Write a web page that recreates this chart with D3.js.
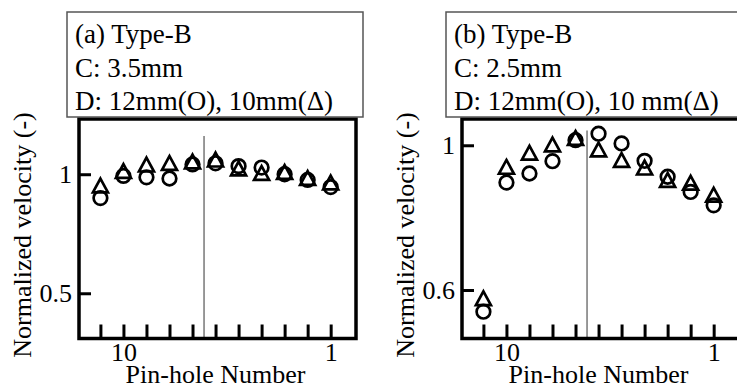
<!DOCTYPE html>
<html>
<head>
<meta charset="utf-8">
<script src="https://cdn.jsdelivr.net/npm/d3@7"></script>
<style>
  body { margin: 0; background: #fff; }
  svg { display: block; }
  text { font-family: "Liberation Serif", "Times New Roman", serif; fill: #000; }
</style>
</head>
<body>
<svg id="chart" width="737" height="388"></svg>
<script>
// pin-hole numbers (x), plotted right-to-left
const pinHoles = [11, 10, 9, 8, 7, 6, 5, 4, 3, 2, 1];
const xTickLabels = [10, 1];

// (a) C: 3.5mm
const a12mm = [0.900, 0.993, 0.987, 0.982, 1.041, 1.046, 1.034, 1.028, 1.000, 0.976, 0.946]; // circles
const a10mm = [0.955, 1.016, 1.043, 1.050, 1.056, 1.064, 1.027, 1.008, 1.012, 0.987, 0.968]; // triangles
const aYTicks = [0.5, 1];
const aLegend = ["(a) Type-B", "C: 3.5mm", "D: 12mm(O), 10mm(\u0394)"];

// (b) C: 2.5mm
const b12mm = [0.540, 0.897, 0.922, 0.956, 1.014, 1.032, 1.005, 0.957, 0.913, 0.871, 0.834];
const b10mm = [0.579, 0.942, 0.981, 1.004, 1.022, 0.990, 0.961, 0.940, 0.906, 0.898, 0.865];
const bYTicks = [0.6, 1];
const bLegend = ["(b) Type-B", "C: 2.5mm", "D: 12mm(O), 10 mm(\u0394)"];

const svg = d3.select("#chart");
const fontSize = 26;

function drawPanel(p) {
  const w = 277, h = 219.5;
  const g = svg.append("g").attr("transform", `translate(${p.left},${p.top})`);

  const x = d3.scaleLinear().domain([11.93, -0.1]).range([0, w]);
  const y = d3.scaleLinear().domain(p.yDomain).range([h, 0]);

  // legend box
  const box = svg.append("g").attr("transform", `translate(${p.boxLeft},12)`);
  box.append("rect")
    .attr("width", 296).attr("height", 105)
    .attr("fill", "#fff").attr("stroke", "#555").attr("stroke-width", 1.5);
  box.selectAll("text").data(p.legend).enter().append("text")
    .attr("x", 8)
    .attr("y", (d, i) => 31 + i * 33.5)
    .attr("font-size", 27)
    .text(d => d);

  // divider line
  g.append("line")
    .attr("x1", x(6.5)).attr("x2", x(6.5))
    .attr("y1", y(p.lineTop)).attr("y2", h)
    .attr("stroke", "#555").attr("stroke-width", 1.2);

  // x axis, ticks pointing inward
  const xAxis = g.append("g")
    .attr("transform", `translate(0,${h})`)
    .call(d3.axisBottom(x)
      .tickValues(pinHoles)
      .tickSize(-14)
      .tickPadding(4)
      .tickFormat(d => xTickLabels.includes(d) ? d : ""));
  xAxis.select(".domain").remove();
  xAxis.selectAll("line").attr("stroke", "#000").attr("stroke-width", 3);
  xAxis.selectAll("text").attr("font-size", fontSize).attr("font-family", null);

  // y axis
  const yAxis = g.append("g")
    .call(d3.axisLeft(y)
      .tickValues(p.yTicks)
      .tickSize(-12)
      .tickPadding(7)
      .tickFormat(d => d));
  yAxis.select(".domain").remove();
  yAxis.selectAll("line").attr("stroke", "#000").attr("stroke-width", 3);
  yAxis.selectAll("text").attr("font-size", fontSize).attr("font-family", null);

  // frame
  g.append("rect")
    .attr("width", w).attr("height", h)
    .attr("fill", "none").attr("stroke", "#000").attr("stroke-width", 3.5);

  // circles: 12mm
  g.selectAll(".circ").data(pinHoles).enter().append("circle")
    .attr("class", "circ")
    .attr("cx", d => x(d))
    .attr("cy", (d, i) => y(p.circ[i]))
    .attr("r", 6.8)
    .attr("fill", "none").attr("stroke", "#000").attr("stroke-width", 2.7);

  // triangles: 10mm
  g.selectAll(".tri").data(pinHoles).enter().append("path")
    .attr("class", "tri")
    .attr("transform", (d, i) => `translate(${x(d)},${y(p.tri[i]) + 0.7})`)
    .attr("d", "M0,-7L7.5,6.8L-7.5,6.8Z")
    .attr("fill", "none").attr("stroke", "#000").attr("stroke-width", 2.7);

  // axis titles
  g.append("text")
    .attr("x", w / 2 - 2).attr("y", 383 - p.top)
    .attr("text-anchor", "middle")
    .attr("font-size", fontSize)
    .text("Pin-hole Number");

  g.append("text")
    .attr("transform", `translate(-48,${235 - p.top}) rotate(-90)`)
    .attr("text-anchor", "middle")
    .attr("font-size", fontSize)
    .text("Normalized velocity (-)");
}

drawPanel({ left: 79, top: 119, boxLeft: 67, yDomain: [0.31, 1.232], yTicks: aYTicks,
  lineTop: 1.161, circ: a12mm, tri: a10mm, legend: aLegend });
drawPanel({ left: 462, top: 119, boxLeft: 446, yDomain: [0.466, 1.0726], yTicks: bYTicks,
  lineTop: 1.041, circ: b12mm, tri: b10mm, legend: bLegend });
</script>
</body>
</html>
